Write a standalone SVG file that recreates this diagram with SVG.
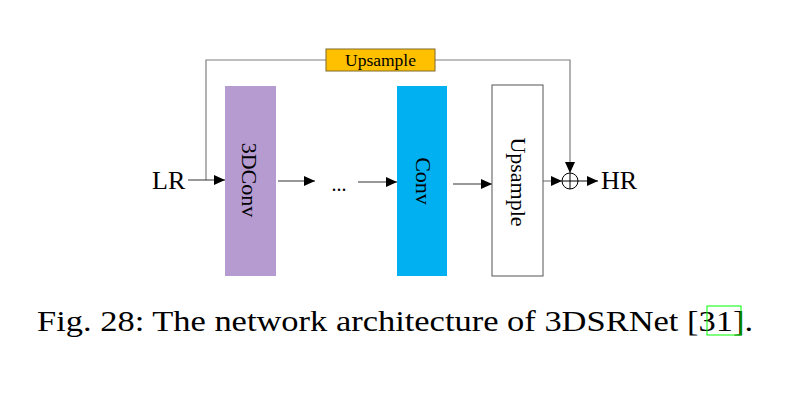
<svg xmlns="http://www.w3.org/2000/svg" width="794" height="406" viewBox="0 0 794 406">
  <style>
    .t { font-family: "Liberation Serif", "Times New Roman", serif; fill: #000; }
    .line { fill: none; stroke: #333; stroke-width: 1.2; }
    .gray { fill: none; stroke: #7f7f7f; stroke-width: 1.2; }
  </style>
  <defs>
    <marker id="arr" markerUnits="userSpaceOnUse" markerWidth="12" markerHeight="10" refX="11" refY="5" orient="auto">
      <path d="M0,0 L11,5 L0,10 z" fill="#000"/>
    </marker>
  </defs>
  <rect width="794" height="406" fill="#fff"/>

  <g id="connectors">
    <path class="gray" d="M206,180 V60 H326"/>
    <path class="gray" d="M435,60 H570 V173" marker-end="url(#arr)"/>
    <path class="line" d="M188,180 H225" marker-end="url(#arr)"/>
    <path class="line" d="M278,181 H315" marker-end="url(#arr)"/>
    <path class="line" d="M358,182 H397" marker-end="url(#arr)"/>
    <path class="line" d="M453,184 H492" marker-end="url(#arr)"/>
    <path class="gray" d="M543,181 H562" marker-end="url(#arr)"/>
    <path class="line" d="M578,181 H598" marker-end="url(#arr)"/>
  </g>

  <g id="lr"><text class="t" x="152" y="189" font-size="26">LR</text></g>
  <g id="hr"><text class="t" x="601" y="189" font-size="26">HR</text></g>

  <g id="upsample-skip">
    <rect x="326" y="49" width="109" height="22" fill="#FFC000" stroke="#7f6a2a" stroke-width="1"/>
    <text class="t" x="380.5" y="66" font-size="17.5" text-anchor="middle">Upsample</text>
  </g>

  <g id="conv3d">
    <rect x="225" y="86" width="51" height="190" fill="#B69BD1"/>
    <text class="t" font-size="22" text-anchor="middle" transform="translate(242,180) rotate(90)">3DConv</text>
  </g>

  <g id="dots"><text class="t" x="339" y="191" font-size="20" text-anchor="middle">...</text></g>

  <g id="conv">
    <rect x="397" y="86" width="50" height="190" fill="#00B0F0"/>
    <text class="t" font-size="22" text-anchor="middle" transform="translate(416,181) rotate(90)">Conv</text>
  </g>

  <g id="upsample">
    <rect x="492" y="85" width="51" height="191" fill="#fff" stroke="#555" stroke-width="1"/>
    <text class="t" font-size="22" text-anchor="middle" transform="translate(511,182) rotate(90)">Upsample</text>
  </g>

  <g id="sum">
    <circle cx="570" cy="181" r="8" fill="#fff" stroke="#000" stroke-width="1"/>
    <path d="M562,181 H578 M570,173 V189" stroke="#000" stroke-width="1"/>
  </g>

  <g id="caption">
    <text class="t" x="37" y="331" font-size="30" textLength="716" lengthAdjust="spacingAndGlyphs">Fig. 28: The network architecture of 3DSRNet [31].</text>
    <rect x="707" y="306" width="34" height="29" fill="none" stroke="#00ff00" stroke-width="1"/>
  </g>
</svg>
